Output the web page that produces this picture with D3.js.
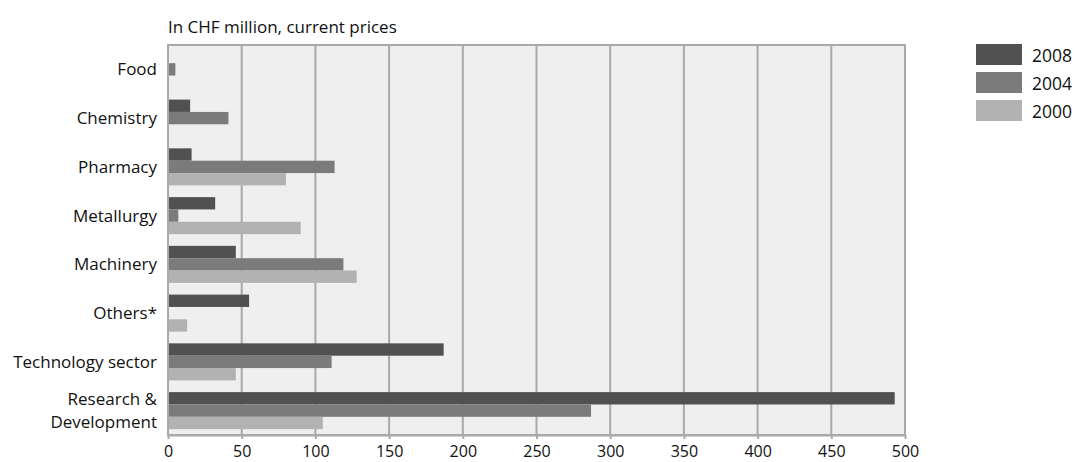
<!DOCTYPE html>
<html>
<head>
<meta charset="utf-8">
<script src="https://cdn.jsdelivr.net/npm/d3@7"></script>
<style>
  html, body { margin: 0; padding: 0; background: #fff; }
  svg { display: block; font-family: "Open Sans", "Noto Sans", sans-serif; }
</style>
</head>
<body>
<svg id="chart" width="1075" height="462"></svg>
<script>
// Sectors, top to bottom
const categories = ["Food", "Chemistry", "Pharmacy", "Metallurgy", "Machinery", "Others*", "Technology sector", "Research & Development"];
// Values in CHF million, current prices (0 = no bar)
const values2008 = [0, 15, 16, 32, 46, 55, 187, 493];
const values2004 = [5, 41, 113, 7, 119, 0, 111, 287];
const values2000 = [0, 0, 80, 90, 128, 13, 46, 105];
const seriesNames = ["2008", "2004", "2000"];
const seriesColors = ["#515151", "#7b7b7b", "#b2b2b2"];
const xTicks = [0, 50, 100, 150, 200, 250, 300, 350, 400, 450, 500];
const unitLabel = "In CHF million, current prices";

const series = [values2008, values2004, values2000];

const svg = d3.select("#chart");
const margin = { left: 168, right: 170, top: 45, bottom: 27 };
const W = 1075, H = 462;
const plotW = W - margin.left - margin.right;
const plotH = H - margin.top - margin.bottom;
const font = "'Open Sans', 'Noto Sans', sans-serif";

const x = d3.scaleLinear().domain([0, 500]).range([margin.left, margin.left + plotW]);
const y = d3.scaleBand().domain(categories).range([margin.top, margin.top + plotH]).paddingInner(0.24).paddingOuter(0.12);
const ySub = d3.scaleBand().domain(seriesNames).range([0, y.bandwidth()]);

// plot background
svg.append("rect")
  .attr("x", margin.left).attr("y", margin.top)
  .attr("width", plotW).attr("height", plotH)
  .attr("fill", "#efefef");

// vertical gridlines
svg.append("g").selectAll("line")
  .data(xTicks.filter(d => d > 0 && d < 500))
  .join("line")
  .attr("x1", d => x(d)).attr("x2", d => x(d))
  .attr("y1", margin.top).attr("y2", margin.top + plotH)
  .attr("stroke", "#a9a9a9").attr("stroke-width", 2);

// bars
const groups = svg.append("g").selectAll("g")
  .data(categories)
  .join("g")
  .attr("transform", d => `translate(0,${y(d)})`);

groups.selectAll("rect")
  .data((d, i) => series.map((s, k) => ({ name: seriesNames[k], value: s[i], color: seriesColors[k] })))
  .join("rect")
  .filter(d => d.value)
  .attr("x", x(0))
  .attr("y", d => ySub(d.name))
  .attr("width", d => x(d.value) - x(0))
  .attr("height", ySub.bandwidth())
  .attr("fill", d => d.color);

// plot frame
svg.append("rect")
  .attr("x", margin.left).attr("y", margin.top)
  .attr("width", plotW).attr("height", plotH)
  .attr("fill", "none").attr("stroke", "#a9a9a9").attr("stroke-width", 2);

// bottom axis
const xAxis = d3.axisBottom(x).tickValues(xTicks).tickSize(4).tickSizeOuter(0);
const ax = svg.append("g")
  .attr("transform", `translate(0,${margin.top + plotH})`)
  .call(xAxis);
ax.select(".domain").attr("stroke", "#a9a9a9").attr("stroke-width", 2);
ax.selectAll(".tick line").attr("stroke", "#a9a9a9").attr("stroke-width", 2);
ax.selectAll(".tick text")
  .attr("fill", "#111").attr("font-size", 16).attr("font-family", font)
  .attr("y", 22).attr("dy", null);

// category labels
const labelSize = 17, lineH = 22.5;
const labels = svg.append("g").selectAll("text")
  .data(categories)
  .join("text")
  .attr("y", d => y(d) + y.bandwidth() / 2)
  .attr("text-anchor", "end")
  .attr("font-size", labelSize)
  .attr("fill", "#111");

labels.each(function (d) {
  const t = d3.select(this);
  const lines = d === "Research & Development" ? ["Research &", "Development"] : [d];
  lines.forEach((ln, i) => {
    t.append("tspan")
      .attr("x", margin.left - 11)
      .attr("dy", i === 0 ? 0.35 * labelSize - (lines.length - 1) * lineH / 2 : lineH)
      .text(ln);
  });
});

// unit label
svg.append("text")
  .attr("x", margin.left)
  .attr("y", 33)
  .attr("font-size", 17)
  .attr("fill", "#111")
  .text(unitLabel);

// legend
const legend = svg.append("g").attr("transform", "translate(976,44)");
const lg = legend.selectAll("g").data(seriesNames).join("g")
  .attr("transform", (d, i) => `translate(0,${i * 28})`);
lg.append("rect").attr("width", 46).attr("height", 21)
  .attr("fill", (d, i) => seriesColors[i]);
lg.append("text").attr("x", 56).attr("y", 18)
  .attr("font-size", 17.5).attr("fill", "#111").text(d => d);
</script>
</body>
</html>
